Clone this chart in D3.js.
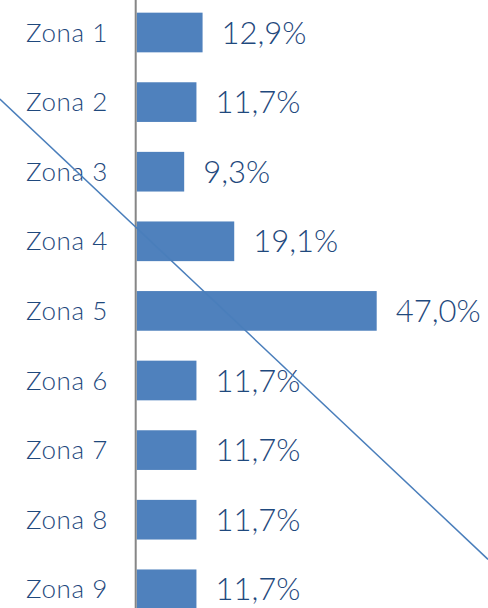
<!DOCTYPE html>
<html>
<head>
<meta charset="utf-8">
<script src="https://cdn.jsdelivr.net/npm/d3@7"></script>
<style>
  html, body { margin: 0; padding: 0; background: #fff; overflow: hidden; }
  svg { display: block; }
  text { font-family: "Lato", "Open Sans", sans-serif; font-weight: 300; }
</style>
</head>
<body>
<svg id="chart" width="488" height="608"></svg>
<script>
// ---- data ----
const categories = ["Zona 1", "Zona 2", "Zona 3", "Zona 4", "Zona 5", "Zona 6", "Zona 7", "Zona 8", "Zona 9"];
const values = [12.9, 11.7, 9.3, 19.1, 47.0, 11.7, 11.7, 11.7, 11.7];
const valueLabels = ["12,9%", "11,7%", "9,3%", "19,1%", "47,0%", "11,7%", "11,7%", "11,7%", "11,7%"];
// overlay diagonal line, in (value %, category index) coordinates
const overlayLineValues = [-26.8, 68.8];
const overlayLineIndex = [0.955, 7.57];

// ---- layout ----
const W = 488, H = 608;
const svg = d3.select("#chart");

const x = d3.scaleLinear().domain([0, 47]).range([136.7, 376.7]);
const step = 69.6;
const firstCenter = 32.5;
const y = d3.scaleBand()
  .domain(categories)
  .range([firstCenter - step / 2, firstCenter - step / 2 + step * categories.length])
  .paddingInner(0.43)
  .paddingOuter(0.215);
const yIdx = d3.scaleLinear().domain([0, categories.length - 1])
  .range([y(categories[0]) + y.bandwidth() / 2, y(categories[categories.length - 1]) + y.bandwidth() / 2]);

// bars
svg.append("g").selectAll("rect")
  .data(categories)
  .join("rect")
  .attr("x", x(0))
  .attr("y", d => y(d))
  .attr("width", (d, i) => x(values[i]) - x(0))
  .attr("height", y.bandwidth())
  .attr("fill", "#4F81BD");

// axis line
const axis = d3.axisLeft(y).tickSize(0).tickFormat("");
const axisG = svg.append("g").attr("transform", `translate(${x(0) - 1},0)`).call(axis);
axisG.select(".domain").attr("stroke", "#868686").attr("stroke-width", 2)
  .attr("d", `M0,0V${H}`);

// category labels
svg.append("g").selectAll("text")
  .data(categories)
  .join("text")
  .attr("x", 26)
  .attr("y", d => y(d) + y.bandwidth() / 2)
  .attr("dy", "0.35em")
  .attr("fill", "#1F497D")
  .attr("font-size", 26)
  .attr("letter-spacing", 0.6)
  .text(d => d);

// value labels
svg.append("g").selectAll("text")
  .data(categories)
  .join("text")
  .attr("x", (d, i) => x(values[i]) + 19)
  .attr("y", d => y(d) + y.bandwidth() / 2)
  .attr("dy", "0.36em")
  .attr("fill", "#1F497D")
  .attr("font-size", 31)
  .text((d, i) => valueLabels[i]);

// overlay diagonal line
const linePts = overlayLineValues.map((v, i) => [x(v), yIdx(overlayLineIndex[i])]);
svg.append("path")
  .attr("d", d3.line()(linePts))
  .attr("stroke", "#4A7EBB")
  .attr("stroke-width", 1.5)
  .attr("fill", "none");
</script>
</body>
</html>
